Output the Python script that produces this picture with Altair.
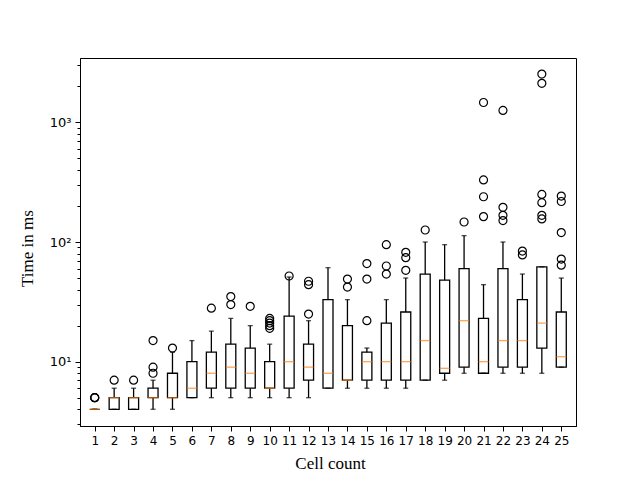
import altair as alt
import pandas as pd

positions = list(range(1, 26))
q1 = [4, 4, 4, 5, 5, 5, 6, 6, 6, 6, 6, 7, 6, 7, 7, 7, 7, 7, 8, 9, 8, 9, 9, 13, 9]
median = [4, 5, 5, 5, 5, 6, 8, 9, 8, 6, 10, 9, 8, 7, 10, 10, 10, 15, 8.8, 22, 10, 15, 15, 21, 11]
q3 = [4, 5, 5, 6, 8, 10, 12, 14, 13, 10, 24, 14, 33, 20, 12, 21, 26, 54, 48, 60, 23, 60, 33, 62, 26]
whisker_low = [4, 4, 4, 4, 4, 5, 5, 5, 5, 5, 5, 5, 6, 6, 6, 6, 6, 7, 7, 8, 8, 8, 8, 8, 9]
whisker_high = [4, 6, 6, 7, 12, 15, 18, 23, 20, 14, 51, 22, 61, 33, 13, 33, 50, 100, 95, 113, 44, 100, 54, 62, 50]
outliers = [
    [5, 5, 5], [7], [7], [8, 9, 15], [13], [], [28], [30, 35], [29],
    [19, 20, 21, 22, 23], [52], [25, 44, 47], [], [42, 49], [22, 49, 66],
    [54, 63, 95], [58, 74, 82], [126], [], [147], [163, 239, 330, 1465],
    [151, 167, 195, 1259], [78, 84], [156, 167, 213, 250, 2120, 2530],
    [64, 72, 120, 218, 242],
]
x_ticks = list(range(1, 26))
y_ticks = [3, 4, 5, 6, 7, 8, 9, 10, 20, 30, 40, 50, 60, 70, 80, 90,
           100, 200, 300, 400, 500, 600, 700, 800, 900, 1000, 2000, 3000]

box_df = pd.DataFrame({"pos": positions, "q1": q1, "med": median, "q3": q3,
                       "lo": whisker_low, "hi": whisker_high})
flier_df = pd.DataFrame([{"pos": p, "value": v}
                         for p, vals in zip(positions, outliers) for v in vals])

x_axis = alt.Axis(values=x_ticks, grid=False, domain=True, domainColor="black", domainWidth=1,
                  title="Cell count",
                  tickColor="black", tickSize=5, tickWidth=1,
                  labelFont="DejaVu Sans", labelFontSize=12, labelColor="black",
                  labelPadding=4, labelFlush=False, labelOverlap=False, format="d",
                  titleFont="Liberation Serif", titleFontSize=17, titleFontWeight="normal",
                  titleColor="black", titleX=250, titleY=37, titleBaseline="middle",
                  titleAlign="center")
major_test = "datum.value == 10 || datum.value == 100 || datum.value == 1000"
y_axis = alt.Axis(values=y_ticks, grid=False, domain=True, domainColor="black", domainWidth=1,
                  title="Time in ms",
                  tickColor="black",
                  tickSize={"condition": {"test": major_test, "value": 5}, "value": 3},
                  tickWidth=1,
                  labelExpr="datum.value == 10 ? '10¹' : datum.value == 100 ? '10²' : datum.value == 1000 ? '10³' : ''",
                  labelFont="DejaVu Sans", labelFontSize=13, labelColor="black",
                  labelPadding=4, labelFlush=False, labelOverlap=False,
                  titleFont="Liberation Serif", titleFontSize=17, titleFontWeight="normal",
                  titleColor="black", titleX=-53, titleY=190, titleAngle=270,
                  titleBaseline="middle", titleAlign="center")

x_scale = alt.Scale(domain=[0.5, 25.5], nice=False, zero=False)
y_scale = alt.Scale(type="log", domain=[2.9, 3450], nice=False)


def X():
    return alt.X("pos:Q", scale=x_scale, axis=x_axis)


def Y(field):
    return alt.Y(f"{field}:Q", scale=y_scale, axis=y_axis)


base = alt.Chart(box_df)
lw = 1.3
whisk_lo = base.mark_rule(color="black", strokeWidth=lw).encode(x=X(), y=Y("lo"), y2="q1:Q")
whisk_hi = base.mark_rule(color="black", strokeWidth=lw).encode(x=X(), y=Y("q3"), y2="hi:Q")
box = base.mark_bar(size=10, fill="white", fillOpacity=0, stroke="black",
                    strokeWidth=lw).encode(x=X(), y=Y("q1"), y2="q3:Q")
cap_lo = base.mark_tick(orient="horizontal", size=5, thickness=lw, color="black").encode(x=X(), y=Y("lo"))
cap_hi = base.mark_tick(orient="horizontal", size=5, thickness=lw, color="black").encode(x=X(), y=Y("hi"))
med = base.mark_tick(orient="horizontal", size=10, thickness=lw, color="#ff7f0e").encode(x=X(), y=Y("med"))
fliers = alt.Chart(flier_df).mark_point(shape="circle", size=64, filled=False, color="black",
                                         strokeWidth=1.2, opacity=1).encode(x=X(), y=Y("value"))

chart = alt.layer(whisk_lo, whisk_hi, box, cap_lo, cap_hi, med, fliers).properties(
    width=496, height=368,
    background="white",
    autosize=alt.AutoSizeParams(type="none"),
    padding={"left": 72, "top": 50, "right": 56, "bottom": 46},
).configure_view(stroke="black", strokeWidth=1)

chart.save("out.html", embed_options={"renderer": "svg", "actions": False})
